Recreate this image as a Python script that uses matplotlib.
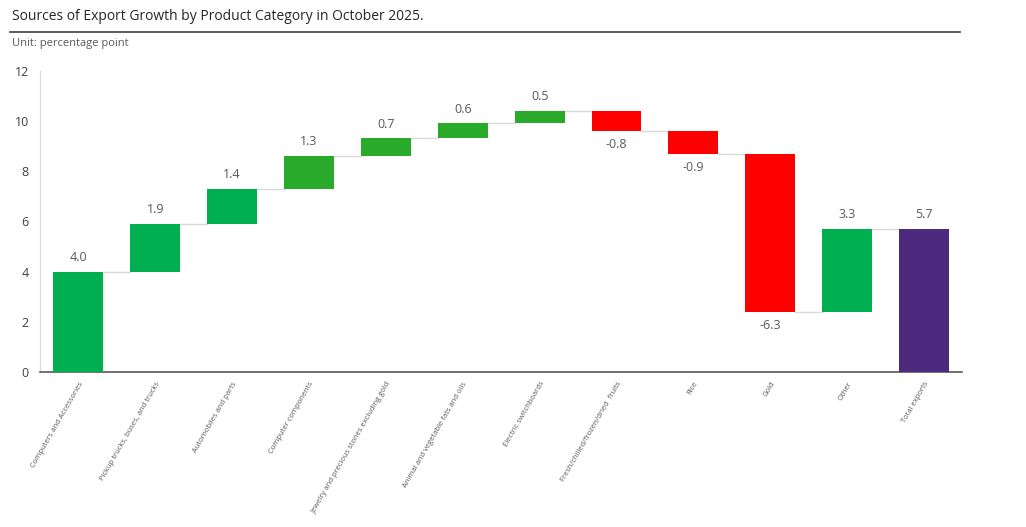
import matplotlib.pyplot as plt
import numpy as np

plt.rcParams['font.family'] = ['Open Sans', 'DejaVu Sans']

categories = ['Computers and Accessories', 'Pickup trucks, buses, and trucks',
              'Automobiles and parts', 'Computer components',
              'Jewelry and precious stones excluding gold',
              'Animal and vegetable fats and oils', 'Electric switchboards',
              'Fresh/chilled/frozen/dried  fruits', 'Rice', 'Gold', 'Other',
              'Total exports']
changes = [4.0, 1.9, 1.4, 1.3, 0.7, 0.6, 0.5, -0.8, -0.9, -6.3, 3.3]
total = 5.7
colors = ['#00B050', '#00B050', '#00B050', '#2AAA2A', '#2AAA2A', '#2AAA2A',
          '#2AAA2A', '#FF0000', '#FF0000', '#FF0000', '#00B050', '#4E2A7E']

ends = np.cumsum(changes)
starts = ends - np.array(changes)
bottoms = list(np.minimum(starts, ends)) + [0]
heights = list(np.abs(changes)) + [total]
values = changes + [total]
x = np.arange(len(categories))

fig = plt.figure(figsize=(10.26, 5.27), dpi=100)
ax = fig.add_axes([0.039, 0.294, 0.899, 0.572])

w = 0.65
ax.bar(x, heights, bottom=bottoms, width=w, color=colors, zorder=3)

# connector lines
levels = list(ends)
for i in range(len(categories) - 1):
    ax.plot([x[i] + w / 2, x[i + 1] - w / 2], [levels[i], levels[i]],
            color='#d9d9d9', lw=1, zorder=2)

for i, v in enumerate(values):
    if v >= 0:
        top = bottoms[i] + heights[i]
        ax.text(x[i], top + 0.3, f'{v:.1f}', ha='center', va='bottom',
                fontsize=9, color='#595959')
    else:
        ax.text(x[i], bottoms[i] - 0.3, f'{v:.1f}', ha='center', va='top',
                fontsize=9, color='#595959')

ax.set_xlim(-0.5, 11.5)
ax.set_ylim(0, 12)
ax.set_yticks(range(0, 13, 2))
ax.tick_params(axis='y', length=0, labelsize=9, colors='#404040', pad=8)
ax.set_xticks(x)
ax.set_xticklabels(categories, rotation=60, ha='right', rotation_mode='anchor',
                   fontsize=5.5, color='#595959')
ax.tick_params(axis='x', length=0, pad=6)
for s in ['top', 'right']:
    ax.spines[s].set_visible(False)
ax.spines['left'].set_color('#d9d9d9')
ax.spines['bottom'].set_color('#595959')
ax.spines['bottom'].set_linewidth(1.2)

fig.text(0.012, 0.968, 'Sources of Export Growth by Product Category in October 2025.',
         fontsize=10, color='#262626', va='center')
fig.add_artist(plt.Line2D([0.01, 0.936], [0.94, 0.94], color='#404040', lw=1.2))
fig.text(0.012, 0.918, 'Unit: percentage point', fontsize=8, color='#595959',
         va='center')

fig.savefig('out.png', dpi=100)
